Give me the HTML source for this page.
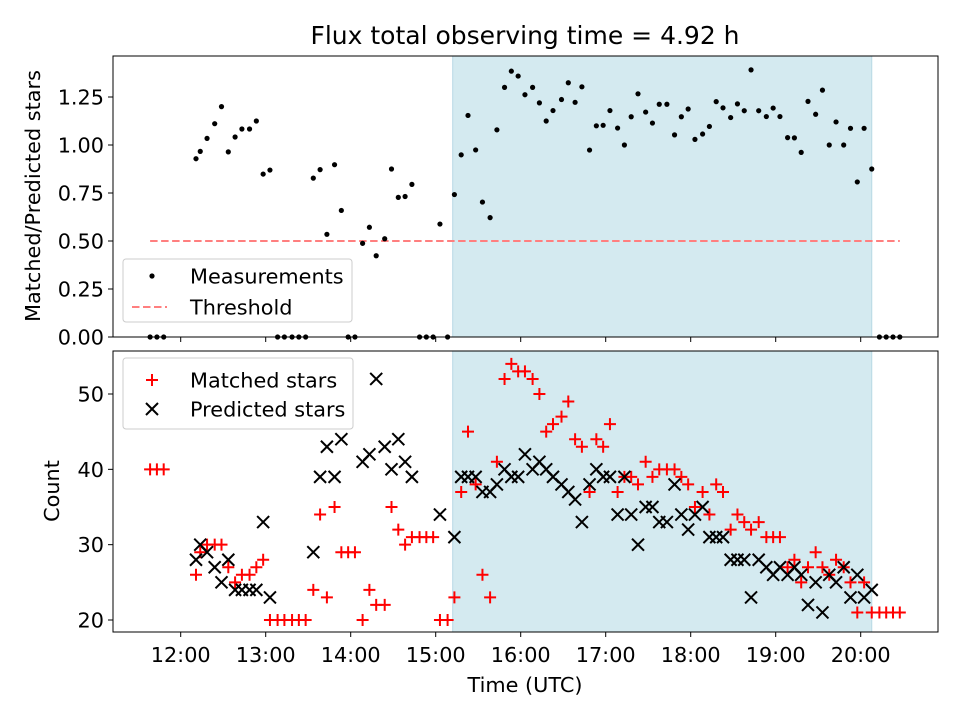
<!DOCTYPE html>
<html><head><meta charset="utf-8"><style>
body{margin:0;background:#fff;}
svg{display:block;font-family:"DejaVu Sans","Liberation Sans",sans-serif;}
</style></head><body>
<svg id="chart" width="960" height="720" viewBox="0 0 960 720">
<text x="525" y="44" text-anchor="middle" font-size="25">Flux total observing time = 4.92 h</text>
<g id="topPanel"></g>
<g id="botPanel"></g>
<text transform="translate(40,196) rotate(-90)" text-anchor="middle" font-size="20.8">Matched/Predicted stars</text>
<text transform="translate(59,491) rotate(-90)" text-anchor="middle" font-size="20.8">Count</text>
<text x="525" y="692" text-anchor="middle" font-size="20.8">Time (UTC)</text>
</svg>
<script>
const times=[11.64,11.72,11.80,12.18,12.23,12.31,12.40,12.48,12.56,12.64,12.72,12.81,12.89,12.97,13.05,13.14,13.22,13.31,13.39,13.47,13.56,13.64,13.72,13.81,13.89,13.97,14.05,14.14,14.22,14.30,14.40,14.48,14.56,14.64,14.72,14.81,14.89,14.97,15.05,15.14,15.22,15.30,15.38,15.47,15.55,15.64,15.72,15.81,15.89,15.97,16.05,16.14,16.22,16.30,16.38,16.48,16.56,16.64,16.72,16.81,16.89,16.97,17.05,17.14,17.22,17.30,17.38,17.47,17.55,17.63,17.72,17.81,17.89,17.97,18.05,18.14,18.22,18.30,18.38,18.47,18.55,18.63,18.71,18.80,18.89,18.97,19.05,19.14,19.22,19.30,19.38,19.47,19.55,19.63,19.71,19.80,19.88,19.96,20.04,20.13,20.22,20.30,20.38,20.46];
const matched=[40,40,40,26,29,30,30,30,27,25,26,26,27,28,20,20,20,20,20,20,24,34,23,35,29,29,29,20,24,22,22,35,32,30,31,31,31,31,20,20,23,37,45,38,26,23,41,52,54,53,53,52,50,45,46,47,49,44,43,37,44,43,46,37,39,39,38,41,39,40,40,40,39,38,35,37,34,38,37,32,34,33,32,33,31,31,31,27,28,25,27,29,27,26,28,27,25,21,25,21,21,21,21,21];
const predicted=[null,null,null,28,30,29,27,25,28,24,24,24,24,33,23,null,null,null,null,null,29,39,43,39,44,null,null,41,42,52,43,40,44,41,39,null,null,null,34,null,31,39,39,39,37,37,38,40,39,39,42,40,41,40,39,38,37,36,33,38,40,39,39,34,39,34,30,35,35,33,33,38,34,32,34,35,31,31,31,28,28,28,23,28,27,26,27,26,27,26,22,25,21,26,25,27,23,26,23,24,null,null,null,null];
const xTickLabels=["12:00","13:00","14:00","15:00","16:00","17:00","18:00","19:00","20:00"];
const xTickHours=[12,13,14,15,16,17,18,19,20];
const topTicks=[0,0.25,0.5,0.75,1.0,1.25];
const botTicks=[20,30,40,50];
const threshold=0.5;
const shadeRange=[15.2,20.13];

const NS="http://www.w3.org/2000/svg";
const X0=113,X1=938;
const xs=t=>180.7+(t-12)*85;
const yTop=v=>337-v*192;
const yBot=v=>620-(v-20)*7.533;
function mk(parent,tag,attrs){const e=document.createElementNS(NS,tag);for(const k in attrs)e.setAttribute(k,attrs[k]);parent.appendChild(e);return e;}
const ratio=matched.map((m,i)=>predicted[i]?m/predicted[i]:0);

function panel(g,yT,yB,yf,ticks,fmt,showX,name){
  const sh=mk(g,'rect',{x:xs(shadeRange[0]),y:yT,width:xs(shadeRange[1])-xs(shadeRange[0]),height:yB-yT,fill:'#d4eaf0',stroke:'#b8d9e4','stroke-width':1});
  
  
  ticks.forEach(v=>{
    const y=yf(v);
    mk(g,'line',{x1:X0-5,x2:X0,y1:y,y2:y,stroke:'#000','stroke-width':1});
    const t=mk(g,'text',{x:X0-9,y:y+7.5,'text-anchor':'end','font-size':20.8});
    t.textContent=fmt(v);
    
    
  });
  xTickHours.forEach((h,i)=>{
    const x=xs(h);
    mk(g,'line',{x1:x,x2:x,y1:yB,y2:yB+5,stroke:'#000','stroke-width':1});
    if(showX){const t=mk(g,'text',{x:x,y:yB+30,'text-anchor':'middle','font-size':20.8});t.textContent=xTickLabels[i];
      
      }
  });
}
const topG=document.getElementById('topPanel'),botG=document.getElementById('botPanel');
panel(topG,56,337,yTop,topTicks,v=>v.toFixed(2),false,'top');
panel(botG,351,632,yBot,botTicks,v=>String(v),true,'bottom');

const th=mk(topG,'line',{x1:xs(times[0]),x2:xs(times[times.length-1]),y1:yTop(threshold),y2:yTop(threshold),stroke:'#ff7f7f','stroke-width':2,'stroke-dasharray':'7.5,3.5'});


times.forEach((t,i)=>{
  const c=mk(topG,'circle',{cx:xs(t),cy:yTop(ratio[i]),r:2.6,fill:'#000'});
  
  
});
times.forEach((t,i)=>{
  const x=xs(t),y=yBot(matched[i]);
  const p=mk(botG,'path',{d:`M${x-6},${y}H${x+6}M${x},${y-6}V${y+6}`,stroke:'#ff0000','stroke-width':2,fill:'none'});
  
  
});
times.forEach((t,i)=>{
  if(predicted[i]==null)return;
  const x=xs(t),y=yBot(predicted[i]);
  const p=mk(botG,'path',{d:`M${x-6},${y-6}L${x+6},${y+6}M${x-6},${y+6}L${x+6},${y-6}`,stroke:'#000','stroke-width':2,fill:'none'});
  
  
});
mk(topG,'rect',{x:X0,y:56,width:X1-X0,height:281,fill:'none',stroke:'#000','stroke-width':1});
mk(botG,'rect',{x:X0,y:351,width:X1-X0,height:281,fill:'none',stroke:'#000','stroke-width':1});

function legend(g,x,y,w,h,rows,entries,name){
  const lg=mk(g,'g',{});
  
  
  mk(lg,'rect',{x:x,y:y,width:w,height:h,rx:3,fill:'#fff','fill-opacity':0.8,stroke:'#ccc','stroke-width':1});
  entries.forEach((e,i)=>{
    const cy=rows[i], mx=x+16;
    if(e[0]==='dot')mk(lg,'circle',{cx:mx+13,cy:cy,r:2.6,fill:'#000'});
    if(e[0]==='dash')mk(lg,'line',{x1:mx-7,x2:mx+28,y1:cy,y2:cy,stroke:'#ff7f7f','stroke-width':2,'stroke-dasharray':'7.5,3.5'});
    if(e[0]==='plus')mk(lg,'path',{d:`M${mx+7},${cy}H${mx+19}M${mx+13},${cy-6}V${cy+6}`,stroke:'#f00','stroke-width':2});
    if(e[0]==='x')mk(lg,'path',{d:`M${mx+7},${cy-6}L${mx+19},${cy+6}M${mx+7},${cy+6}L${mx+19},${cy-6}`,stroke:'#000','stroke-width':2});
    const t=mk(lg,'text',{x:x+67,y:cy+7.5,'font-size':20.8});t.textContent=e[1];
    
    
  });
}
legend(topG,123,259,229,63,[276,307],[['dot','Measurements'],['dash','Threshold']],'top-legend');
legend(botG,123,358,230,71,[380,409],[['plus','Matched stars'],['x','Predicted stars']],'bottom-legend');
</script>
</body></html>
